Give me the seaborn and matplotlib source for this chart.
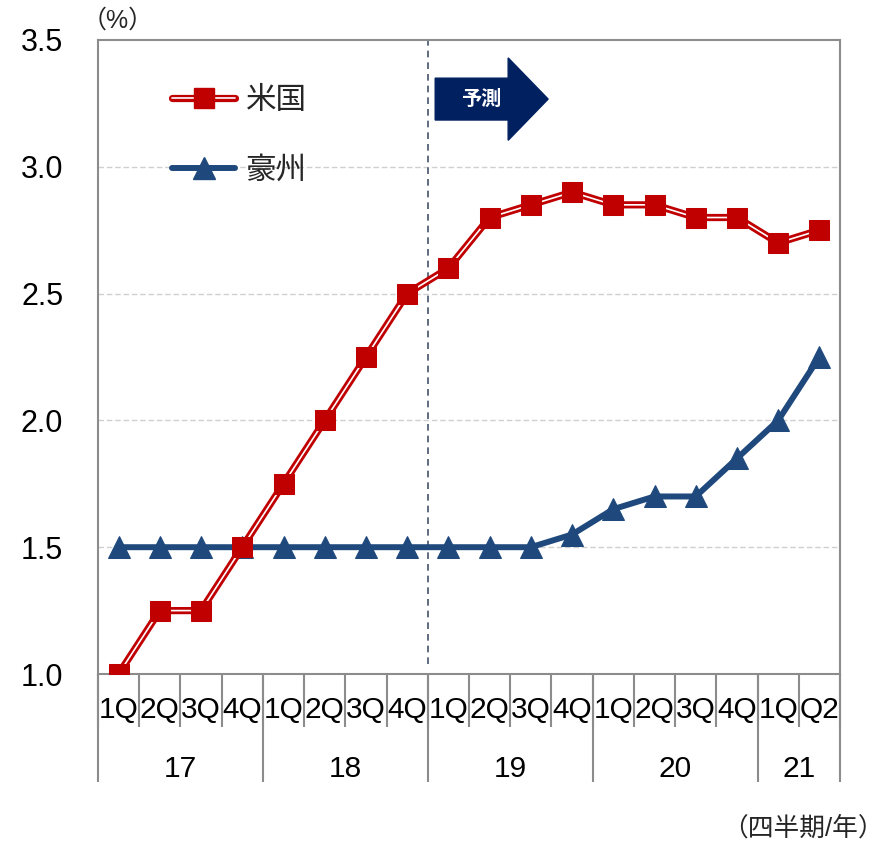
import numpy as np
import pandas as pd
import matplotlib
matplotlib.use("Agg")
import matplotlib.pyplot as plt
import seaborn as sns
from matplotlib.lines import Line2D
from matplotlib.legend_handler import HandlerTuple
from matplotlib.patches import FancyArrow

quarters = ["1Q", "2Q", "3Q", "4Q", "1Q", "2Q", "3Q", "4Q", "1Q", "2Q", "3Q", "4Q",
            "1Q", "2Q", "3Q", "4Q", "1Q", "Q2"]
years = ["17", "18", "19", "20", "21"]
year_spans = [4, 4, 4, 4, 2]
us = [1.0, 1.25, 1.25, 1.5, 1.75, 2.0, 2.25, 2.5, 2.6, 2.8, 2.85, 2.9,
      2.85, 2.85, 2.8, 2.8, 2.7, 2.75]
au = [1.5, 1.5, 1.5, 1.5, 1.5, 1.5, 1.5, 1.5, 1.5, 1.5, 1.5, 1.55,
      1.65, 1.7, 1.7, 1.85, 2.0, 2.25]
series_names = ["米国", "豪州"]
forecast_start = 8

sns.set_theme(style="white")
plt.rcParams["font.family"] = ["Liberation Sans", "Noto Sans CJK JP", "DejaVu Sans"]

RED = "#C00000"
BLUE = "#1F497D"
GRAY = "#8C8C8C"

idx = np.arange(len(quarters))
df = pd.DataFrame({"idx": idx, "us": us, "au": au})

fig = plt.figure(figsize=(8.86, 8.42), dpi=100)
ax = fig.add_axes([98 / 886, 1 - 674 / 842, (840 - 98) / 886, (674 - 40) / 842])

# grid
for yv in [1.5, 2.0, 2.5, 3.0]:
    ax.axhline(yv, color="#D0D0D0", lw=1.0, ls=(0, (4, 2)), zorder=0)

# forecast divider
ax.axvline(forecast_start - 0.5, ymin=0.015, ymax=1.0, color="#44546A", lw=1.2,
           ls=(0, (4, 3)), zorder=1)

MS_SQ = 14.5
MS_TRI = 15.5
# Australia
sns.lineplot(data=df, x="idx", y="au", ax=ax, color=BLUE, lw=4.3, marker="^",
             markersize=MS_TRI, markeredgecolor=BLUE, markerfacecolor=BLUE, zorder=3)
# US double line
sns.lineplot(data=df, x="idx", y="us", ax=ax, color=RED, lw=5.2, zorder=4)
sns.lineplot(data=df, x="idx", y="us", ax=ax, color="white", lw=1.2, zorder=5)
sns.lineplot(data=df, x="idx", y="us", ax=ax, color=RED, lw=0, marker="s",
             markersize=MS_SQ, markeredgecolor=RED, markerfacecolor=RED, zorder=6)

ax.set_xlim(-0.5, len(quarters) - 0.5)
ax.set_ylim(1.0, 3.5)
ax.set_xlabel("")
ax.set_ylabel("")

ax.set_yticks([1.0, 1.5, 2.0, 2.5, 3.0, 3.5])
ax.set_yticklabels([f"{v:.1f}" for v in [1.0, 1.5, 2.0, 2.5, 3.0, 3.5]])
ax.tick_params(axis="y", length=0, pad=25, labelsize=22, labelcolor="black")

ax.set_xticks(idx)
ax.set_xticklabels(quarters)
ax.set_xticks(np.arange(-0.5, len(quarters)), minor=True)
ax.tick_params(axis="x", which="both", bottom=True)
ax.tick_params(axis="x", which="major", length=0, pad=16, labelsize=21.5, labelcolor="black")
ax.tick_params(axis="x", which="minor", length=38, width=1.5, color=GRAY, direction="out")

for sp in ax.spines.values():
    sp.set_color(GRAY)
    sp.set_linewidth(1.5)

# year row
bounds = np.concatenate([[0], np.cumsum(year_spans)]) - 0.5
centers = (bounds[:-1] + bounds[1:]) / 2
sec = ax.secondary_xaxis("bottom")
sec.set_xticks(bounds)
sec.set_xticklabels([""] * len(bounds))
sec.set_xticks(centers, minor=True)
sec.set_xticklabels(years, minor=True)
sec.tick_params(axis="x", which="both", bottom=True)
sec.tick_params(axis="x", which="major", length=78, width=1.5, color=GRAY)
sec.tick_params(axis="x", which="minor", length=0, pad=58, labelsize=21.5, labelcolor="black")
sec.spines["bottom"].set_visible(False)

# forecast arrow
arr = FancyArrow(7.68, 3.267, 2.74, 0, width=0.165, head_width=0.325, head_length=0.97,
                 length_includes_head=True, color="#002060", zorder=7)
ax.add_patch(arr)
ax.text(8.8, 3.267, "予測", color="white", fontsize=14.5, fontweight="bold",
        ha="center", va="center", zorder=8)

# legend
h_us = (Line2D([], [], color=RED, lw=5.2, solid_capstyle="round"),
        Line2D([], [], color="white", lw=1.2, solid_capstyle="round"),
        Line2D([], [], color=RED, lw=0, marker="s", markersize=MS_SQ))
h_au = (Line2D([], [], color=BLUE, lw=4.3, solid_capstyle="round"),
        Line2D([], [], color=BLUE, lw=0, marker="^", markersize=MS_TRI))
leg = ax.legend([h_us, h_au], series_names,
                handler_map={tuple: HandlerTuple(ndivide=1, pad=0)},
                loc="upper left", bbox_to_anchor=(0.1, 0.928), frameon=False,
                fontsize=22, handlelength=2.05, handletextpad=0.35, labelspacing=1.3,
                borderaxespad=0, borderpad=0)

ax.text(-0.022, 1.012, "（%）", transform=ax.transAxes, fontsize=18, ha="left", va="bottom")
fig.text(884 / 886, 1 - 828 / 842, "（四半期/年）", fontsize=18.5, ha="right", va="center")

fig.savefig("out.png", dpi=100)
